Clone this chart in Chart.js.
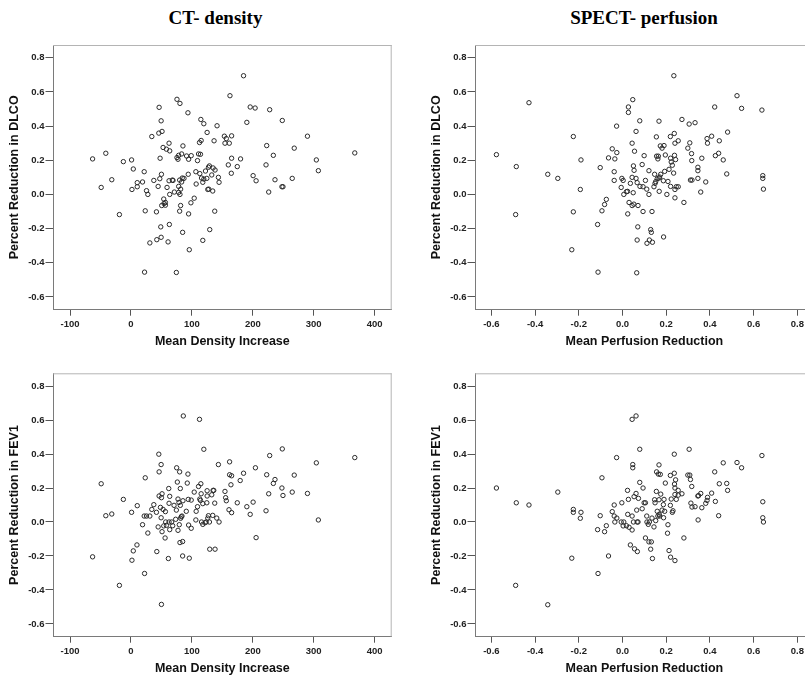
<!DOCTYPE html>
<html><head><meta charset="utf-8">
<script src="https://cdn.jsdelivr.net/npm/chart.js@4.4.0/dist/chart.umd.min.js"></script>
<style>
html,body{margin:0;padding:0;background:#fff;overflow:hidden;width:805px;height:677px}
#wrap{position:relative;width:805px;height:677px;overflow:hidden;background:#fff}
.ttl{position:absolute;font:bold 19px "Liberation Serif","Times New Roman",serif;line-height:19px;color:#000;white-space:nowrap;transform:translateX(-50%)}
canvas{position:absolute}
</style></head><body><div id="wrap">
<div class="ttl" style="left:215.5px;top:8px">CT- density</div>
<div class="ttl" style="left:644px;top:8px">SPECT- perfusion</div>
<canvas id="tl" width="400" height="350" style="left:0px;top:0px"></canvas>
<canvas id="tr" width="400" height="350" style="left:422px;top:0px"></canvas>
<canvas id="bl" width="400" height="349" style="left:0px;top:328px"></canvas>
<canvas id="br" width="400" height="349" style="left:422px;top:328px"></canvas>
</div>
<script>
// ---- tick labels ----
const ctTicks = [-100, 0, 100, 200, 300, 400];
const spTicks = [-0.6, -0.4, -0.2, 0.0, 0.2, 0.4, 0.6, 0.8];
const yTicks  = [-0.6, -0.4, -0.2, 0.0, 0.2, 0.4, 0.6, 0.8];

// ---- CT density vs DLCO ----
const ctDlcoX = [-63,-48.9,-41.3,-31.5,-19,-12.5,1,1.6,3.8,10.3,
10.3,19,21.7,25.5,27.7,23.4,22.3,31,34.2,37.5,
41.8,42.4,44.6,45.7,46.2,47.3,47.8,48.9,49.5,49.5,
51,50,50.5,52.7,53.8,54.3,56.5,56.5,58.2,59.2,
60.9,62.5,63.6,62.5,63,63.6,67.9,69,71.2,75.5,
74.5,75.5,77.2,78.3,78.3,78.3,79.9,79.9,80.4,80.4,
81.5,81.5,83.2,83.2,84.2,84.8,85.3,87,91.3,93.5,
94,94.6,94.6,95.7,98.9,98.4,103.8,106.5,107,109.2,
110.9,112.5,113,114.1,114.7,115.2,115.8,117.9,117.9,119.6,
119.6,122.3,125,124.5,126.1,127.2,127.7,129.3,128.8,132.6,
134.2,134.8,136.4,138,137.5,141.3,143.5,144.6,153.3,154.3,
156.5,159.8,161.4,162.5,164.7,165.2,165.2,174.5,179.9,190.2,
195.7,200.5,203.8,205.4,221.7,222.8,226.1,227.7,233.7,236.4,
247.8,249.5,248.4,264.7,268,289.7,304.3,307.6,367.4,184.8];
const ctDlcoY = [0.208,0.041,0.241,0.086,-0.118,0.192,0.202,0.029,0.149,0.069,
0.045,0.073,0.133,0.022,0.0,-0.096,-0.455,-0.284,0.339,0.082,
-0.102,-0.265,0.047,0.359,0.51,0.092,0.212,-0.19,0.431,-0.251,
0.369,0.118,-0.065,0.275,-0.027,-0.053,-0.047,-0.063,0.265,0.041,
-0.278,0.3,0.255,0.08,-0.176,0.0,0.084,0.082,0.014,0.557,
-0.457,0.216,0.206,0.229,0.047,0.012,0.084,-0.098,0.533,0.0,
-0.065,0.031,0.237,0.073,0.096,-0.222,0.284,0.094,0.225,0.478,
0.118,0.206,-0.114,-0.324,0.227,-0.049,-0.022,0.133,0.061,0.198,
0.237,0.304,0.122,0.235,0.439,0.316,0.096,-0.269,0.071,0.414,
0.09,0.137,0.363,0.094,0.029,0.159,0.031,-0.206,0.167,0.114,
0.02,0.155,0.314,0.143,-0.098,0.402,0.1,0.071,0.341,0.3,
0.327,0.173,0.3,0.578,0.124,0.343,0.212,0.163,0.208,0.422,
0.512,0.11,0.506,0.08,0.173,0.286,0.014,0.496,0.229,0.086,
0.045,0.045,0.433,0.094,0.271,0.341,0.202,0.139,0.243,0.695];

// ---- CT density vs FEV1 ----
const ctFevX = [-63,-48.9,-41.3,-31.5,-19,-12.5,1,1.6,3.8,10.3,
9.8,19,21.7,23.4,22.3,25.5,27.7,31,34.2,37.5,
41.8,42.4,44.6,45.7,46.2,46.2,48.4,49.5,49.5,50,
51,50,51,52.7,53.8,56,56.5,57,58.2,61.4,
62,62.5,63.6,62.5,63.6,66.8,68.5,70.7,73.4,74.5,
75,76.1,77.2,77.2,78.8,79.9,79.3,80.4,81,81,
81.5,82.6,83.7,84.8,85.3,85.9,84.8,90.8,92.4,93.5,
94,94.6,95.7,98.9,98.9,103.8,106.5,107,109.2,110.9,
112.5,113,114.1,114.7,115.2,115.8,117.9,117.9,119.6,121.7,
123.4,124.5,125,125,126.1,127.2,129.3,128.8,132.6,134.2,
134.8,135.9,137.5,138,140.8,143.5,144.6,154.3,155.4,156.5,
160.9,161.9,161.9,165.2,164.1,165.2,174.5,179.3,184.8,190.2,
195.7,200.5,204.3,205.4,221.7,222.8,226.1,227.7,233.7,236.4,
247.8,249.5,248.4,264.7,268,289.7,304.3,307.6,367.4];
const ctFevY = [-0.205,0.225,0.037,0.047,-0.373,0.133,0.057,-0.225,-0.17,0.096,
-0.135,-0.016,0.035,0.26,-0.303,0.035,-0.065,0.035,0.074,0.102,
0.057,-0.174,-0.029,0.399,0.295,0.153,0.086,0.338,0.025,-0.485,
0.166,0.143,-0.057,0.074,-0.023,-0.094,0.061,0.0,-0.02,-0.215,
0.197,0.11,0.151,0.0,-0.045,0.0,-0.022,0.098,0.016,0.07,
0.319,0.235,0.135,-0.049,0.115,0.295,-0.016,-0.121,0.197,0.098,
0.022,0.031,0.035,-0.115,0.125,0.624,-0.2,0.063,0.229,0.282,
0.133,-0.018,-0.213,0.129,-0.037,0.176,0.012,0.063,0.09,0.209,
0.604,0.135,0.127,0.225,0.166,0.0,-0.014,0.108,0.428,-0.004,
0.0,0.113,0.153,0.184,0.023,0.037,-0.16,0.0,0.16,0.039,
0.186,0.186,0.111,-0.16,0.023,0.338,0.0,0.18,0.143,0.125,
0.072,0.354,0.278,0.272,0.219,0.055,0.113,0.244,0.287,0.09,
0.045,0.117,0.319,-0.092,0.066,0.278,0.166,0.391,0.227,0.25,
0.2,0.156,0.43,0.176,0.276,0.168,0.348,0.012,0.379];

// ---- SPECT perfusion vs DLCO ----
const spDlcoX = [-0.577,-0.486,-0.489,-0.342,-0.296,-0.225,-0.225,-0.232,-0.19,-0.193,
-0.114,-0.112,-0.102,-0.094,-0.082,-0.074,-0.064,-0.047,-0.038,-0.038,
-0.035,-0.027,-0.026,-0.006,-0.003,0.003,0.006,0.018,0.023,0.024,
0.027,0.027,0.03,0.036,0.044,0.044,0.044,0.047,0.049,0.05,
0.052,0.053,0.055,0.062,0.062,0.067,0.067,0.065,0.07,0.071,
0.079,0.08,0.09,0.094,0.094,0.099,0.105,0.111,0.112,0.121,
0.121,0.123,0.129,0.132,0.137,0.135,0.144,0.147,0.149,0.152,
0.155,0.156,0.159,0.162,0.164,0.167,0.167,0.168,0.17,0.173,
0.175,0.181,0.187,0.188,0.19,0.193,0.196,0.203,0.208,0.213,
0.219,0.22,0.22,0.223,0.228,0.234,0.237,0.238,0.24,0.24,
0.24,0.243,0.246,0.255,0.255,0.272,0.281,0.299,0.305,0.308,
0.311,0.316,0.317,0.332,0.345,0.345,0.345,0.358,0.363,0.381,
0.387,0.389,0.408,0.422,0.425,0.44,0.443,0.461,0.477,0.481,
0.524,0.545,0.638,0.642,0.642,0.645,-0.428,0.235,0.318];
const spDlcoY = [0.233,0.163,-0.118,0.118,0.094,0.339,-0.102,-0.324,0.202,0.029,
-0.176,-0.455,0.157,-0.096,-0.059,-0.029,0.214,0.267,0.133,0.082,
0.208,0.4,0.245,0.041,0.094,0.082,0.0,0.016,0.018,-0.114,
0.512,0.48,-0.047,0.065,0.3,0.1,-0.065,0.555,0.01,0.167,
-0.057,0.141,0.253,0.369,0.094,0.069,-0.267,-0.459,-0.19,-0.065,
0.431,0.047,0.175,0.045,-0.1,0.227,0.082,0.031,-0.286,0.139,
0.0,-0.267,-0.206,-0.222,-0.28,-0.1,0.045,0.118,0.065,0.075,
0.337,0.224,0.092,0.208,0.224,0.429,0.096,0.018,0.102,0.284,
0.118,0.271,0.08,-0.249,0.286,0.135,0.231,0.0,0.076,0.147,
0.339,0.212,0.047,0.19,0.171,0.125,0.357,0.229,0.3,0.029,
-0.02,0.204,0.045,0.045,0.314,0.439,-0.047,0.271,0.412,0.302,
0.084,0.239,0.198,0.42,0.159,0.139,0.094,0.014,0.212,0.073,
0.327,0.3,0.341,0.512,0.227,0.241,0.314,0.202,0.12,0.365,
0.578,0.504,0.494,0.11,0.094,0.031,0.537,0.695,0.084];

// ---- SPECT perfusion vs FEV1 ----
const spFevX = [-0.577,-0.486,-0.489,-0.428,-0.342,-0.296,-0.225,-0.225,-0.232,-0.19,
-0.193,-0.114,-0.112,-0.102,-0.094,-0.082,-0.074,-0.064,-0.047,-0.038,
-0.038,-0.035,-0.027,-0.026,-0.006,-0.003,0.003,0.006,0.018,0.023,
0.024,0.027,0.03,0.036,0.044,0.044,0.044,0.047,0.047,0.05,
0.053,0.055,0.062,0.062,0.065,0.067,0.068,0.071,0.073,0.079,
0.079,0.09,0.094,0.099,0.105,0.105,0.111,0.112,0.118,0.121,
0.123,0.129,0.132,0.137,0.135,0.144,0.147,0.149,0.152,0.155,
0.156,0.159,0.162,0.164,0.167,0.167,0.168,0.17,0.173,0.175,
0.181,0.187,0.188,0.19,0.193,0.196,0.206,0.208,0.213,0.219,
0.219,0.22,0.223,0.228,0.231,0.237,0.237,0.238,0.24,0.24,
0.24,0.243,0.246,0.255,0.255,0.272,0.281,0.299,0.305,0.308,
0.311,0.313,0.317,0.318,0.332,0.345,0.348,0.346,0.358,0.363,
0.381,0.387,0.389,0.408,0.422,0.425,0.44,0.443,0.461,0.477,
0.481,0.524,0.545,0.638,0.642,0.642,0.645];
const spFevY = [0.2,0.113,-0.373,0.1,-0.487,0.176,0.074,0.057,-0.213,0.057,
0.022,-0.045,-0.303,0.037,0.26,-0.057,-0.022,-0.2,0.061,0.1,
0.035,0.0,0.379,0.023,0.0,0.113,-0.023,0.0,-0.022,0.186,
0.045,0.133,-0.031,-0.135,0.604,0.035,-0.047,0.338,0.319,0.0,
0.149,-0.158,0.624,0.168,0.07,0.0,-0.174,0.0,0.139,0.428,
0.233,0.078,0.2,0.113,0.113,-0.094,0.035,0.0,-0.014,-0.117,
0.0,-0.16,-0.117,-0.215,0.023,-0.029,0.131,0.113,0.008,0.18,
0.295,0.063,0.035,0.282,0.336,0.131,0.045,0.035,0.28,0.164,
0.07,0.102,0.025,0.133,0.063,0.229,-0.066,-0.016,-0.168,0.274,
0.098,-0.207,0.135,0.057,0.066,0.399,0.287,0.223,-0.227,0.2,
0.162,0.248,0.133,0.186,0.158,0.166,-0.094,0.276,0.428,0.276,
0.25,0.111,0.209,0.088,0.09,0.153,0.155,0.012,0.168,0.084,
0.11,0.127,0.145,0.17,0.295,0.121,0.037,0.225,0.348,0.227,
0.186,0.35,0.319,0.391,0.119,0.025,0.0];

const frameLines = {
  id: 'frameLines',
  afterDraw(chart) {
    const a = chart.chartArea, c = chart.ctx;
    c.save();
    c.strokeStyle = '#b4b4b4';
    c.lineWidth = 1;
    c.beginPath();
    c.moveTo(a.left, a.top + 0.5); c.lineTo(a.right, a.top + 0.5);
    c.moveTo(a.right - 0.5, a.top); c.lineTo(a.right - 0.5, a.bottom);
    c.stroke();
    c.restore();
  }
};

const tickFont = { family: '"Liberation Sans", Arial, sans-serif', size: 9.5, weight: 'bold' };
const titleFont = { family: '"Liberation Sans", Arial, sans-serif', size: 12.5, weight: 'bold' };

function panel(id, xs, ys, xTicks, xMin, xMax, xFmt, xTitle, yTitle, padTop) {
  const pts = xs.map((x, i) => ({ x: x, y: ys[i] }));
  new Chart(document.getElementById(id), {
    type: 'scatter',
    data: { datasets: [{ data: pts, pointRadius: 2.2, pointBorderWidth: 1,
      pointBorderColor: '#2a2a2a', pointBackgroundColor: 'rgba(0,0,0,0)', pointHoverRadius: 2.2 }] },
    options: {
      responsive: false, animation: false, events: [],
      layout: { padding: { top: padTop, right: 8.3, left: 0, bottom: 0 } },
      plugins: { legend: { display: false }, tooltip: { enabled: false } },
      scales: {
        x: {
          type: 'linear', min: xMin, max: xMax,
          afterBuildTicks: s => { s.ticks = xTicks.map(v => ({ value: v })); },
          afterFit: s => { s.height = 40.3; },
          ticks: { font: tickFont, color: '#222', padding: 3, maxRotation: 0, autoSkip: false,
            callback: v => xFmt(v) },
          grid: { drawOnChartArea: false, drawTicks: true, tickLength: 6, color: '#555' },
          border: { display: true, color: '#7a7a7a', width: 1 },
          title: { display: true, text: xTitle, font: titleFont, color: '#111', padding: { top: 0, bottom: 1 } }
        },
        y: {
          type: 'linear', min: -0.675, max: 0.875,
          afterBuildTicks: s => { s.ticks = yTicks.map(v => ({ value: v })); },
          afterFit: s => { s.width = 53; },
          ticks: { font: tickFont, color: '#222', padding: 1, autoSkip: false,
            callback: v => v.toFixed(1) },
          grid: { drawOnChartArea: false, drawTicks: true, tickLength: 7.5, color: '#555' },
          border: { display: true, color: '#7a7a7a', width: 1 },
          title: { display: true, text: yTitle, font: titleFont, color: '#111', padding: { top: 7.5, bottom: 0 } }
        }
      }
    },
    plugins: [frameLines]
  });
}

const fmtCT = v => String(Math.round(v));
const fmtSP = v => v.toFixed(1);

panel('tl', ctDlcoX, ctDlcoY, ctTicks, -128, 428, fmtCT, 'Mean Density Increase', 'Percent Reduction in DLCO', 45);
panel('tr', spDlcoX, spDlcoY, spTicks, -0.675, 0.875, fmtSP, 'Mean Perfusion Reduction', 'Percent Reduction in DLCO', 45);
panel('bl', ctFevX, ctFevY, ctTicks, -128, 428, fmtCT, 'Mean Density Increase', 'Percent Reduction in FEV1', 45.3);
panel('br', spFevX, spFevY, spTicks, -0.675, 0.875, fmtSP, 'Mean Perfusion Reduction', 'Percent Reduction in FEV1', 45.3);
</script>
</body></html>
